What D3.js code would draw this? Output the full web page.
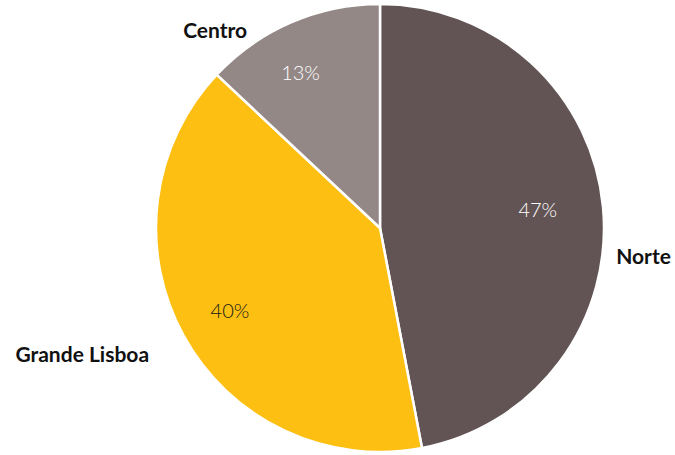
<!DOCTYPE html>
<html>
<head>
<meta charset="utf-8">
<script src="https://cdn.jsdelivr.net/npm/d3@7"></script>
<style>
  html, body { margin: 0; padding: 0; background: #fff; }
  svg { display: block; }
</style>
</head>
<body>
<svg id="chart" width="675" height="455"></svg>
<script>
// Regional share, in percent
const categories = ["Norte", "Grande Lisboa", "Centro"];
const values = [47, 40, 13];
const colors = ["#625454", "#fcbf12", "#938886"];
const valueLabelColors = ["#ffffff", "#1a1a1a", "#ffffff"];

// Label placement around the pie: polar angle (deg, clockwise from 12 o'clock) and distance
const valueLabelPos = {
  "Norte": { angle: 83, dist: 159 },
  "Grande Lisboa": { angle: 241.3, dist: 171 },
  "Centro": { angle: 333, dist: 175 }
};
const nameLabelPos = {
  "Norte": { angle: 96, dist: 265 },
  "Grande Lisboa": { angle: 247.2, dist: 323 },
  "Centro": { angle: 320.3, dist: 258 }
};

const width = 675, height = 455;
const cx = 380, cy = 228, radius = 224;

const data = categories.map((c, i) => ({ name: c, value: values[i], i }));

const svg = d3.select("#chart");
const g = svg.append("g").attr("transform", `translate(${cx},${cy})`);

const pie = d3.pie().value(d => d.value).sort(null);
const arc = d3.arc().innerRadius(0).outerRadius(radius);

const color = d3.scaleOrdinal().domain(categories).range(colors);

const arcs = pie(data);

g.selectAll("path.slice")
  .data(arcs)
  .join("path")
  .attr("class", "slice")
  .attr("d", arc)
  .attr("fill", d => color(d.data.name))
  .attr("stroke", "#ffffff")
  .attr("stroke-width", 2.5)
  .attr("stroke-linejoin", "round");

const polar = (p) => {
  const a = p.angle * Math.PI / 180;
  return [p.dist * Math.sin(a), -p.dist * Math.cos(a)];
};

g.selectAll("text.value")
  .data(arcs)
  .join("text")
  .attr("class", "value")
  .attr("transform", d => `translate(${polar(valueLabelPos[d.data.name])})`)
  .attr("text-anchor", "middle")
  .attr("dominant-baseline", "central")
  .attr("font-family", "Lato, 'Open Sans', sans-serif")
  .attr("font-weight", 300)
  .attr("font-size", 20)
  .attr("fill", d => valueLabelColors[d.data.i])
  .text(d => d.data.value + "%");

g.selectAll("text.name")
  .data(arcs)
  .join("text")
  .attr("class", "name")
  .attr("transform", d => `translate(${polar(nameLabelPos[d.data.name])})`)
  .attr("text-anchor", "middle")
  .attr("dominant-baseline", "central")
  .attr("font-family", "Lato, 'Open Sans', sans-serif")
  .attr("font-weight", 700)
  .attr("font-size", 21)
  .attr("fill", "#111111")
  .text(d => d.data.name);
</script>
</body>
</html>
